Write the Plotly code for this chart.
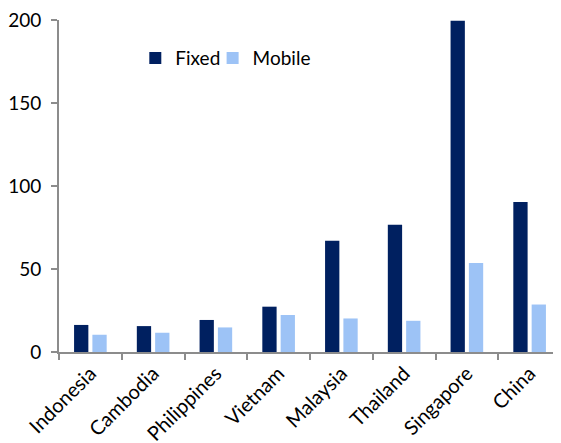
import plotly.graph_objects as go

categories = ["Indonesia", "Cambodia", "Philippines", "Vietnam", "Malaysia", "Thailand", "Singapore", "China"]
fixed = [16.3, 15.6, 19.3, 27.3, 67.0, 76.6, 199.6, 90.3]
mobile = [10.4, 11.6, 14.8, 22.3, 20.2, 18.8, 53.6, 28.6]
y_ticks = [0, 50, 100, 150, 200]

FONT = "Lato"

fig = go.Figure()
fig.add_trace(go.Bar(x=categories, y=fixed, name="Fixed", legend="legend",
                     marker=dict(color="#002060", line=dict(width=0))))
fig.add_trace(go.Bar(x=categories, y=mobile, name="Mobile", legend="legend2",
                     marker=dict(color="#9DC3F6", line=dict(width=0))))

legend_style = dict(orientation="h", y=0.885, xanchor="left", yanchor="middle",
                    font=dict(family=FONT, size=19, color="#000000"),
                    bgcolor="rgba(0,0,0,0)", itemwidth=30)

# page has an 8px body margin, so the figure is sized to fill the rest of the window
fig.update_layout(
    width=553, height=435,
    margin=dict(l=51, r=0, t=12, b=91, pad=0),
    paper_bgcolor="white", plot_bgcolor="white",
    barmode="group", bargap=0.416, bargroupgap=0.22,
    font=dict(family=FONT, size=19, color="#000000"),
    showlegend=True,
    legend=dict(x=0.152, **legend_style),
    legend2=dict(x=0.306, **legend_style),
)
fig.update_xaxes(
    type="category", showline=True, linecolor="#8C8C8C", linewidth=2,
    ticks="outside", tickson="boundaries", ticklen=6, tickcolor="#8C8C8C", tickwidth=2,
    tickangle=-45, showgrid=False, zeroline=False, automargin=False,
    ticklabeloverflow="allow",
    tickfont=dict(family=FONT, size=20, color="#000000"),
)
fig.update_yaxes(
    range=[0, 200], tickvals=y_ticks, showline=True, linecolor="#8C8C8C", linewidth=2,
    ticks="outside", ticklen=6, tickcolor="#8C8C8C", tickwidth=2,
    showgrid=False, zeroline=False, ticklabelstandoff=6, automargin=False,
    ticklabeloverflow="allow",
    tickfont=dict(family=FONT, size=19, color="#000000"),
)

fig.write_html("out.html")
